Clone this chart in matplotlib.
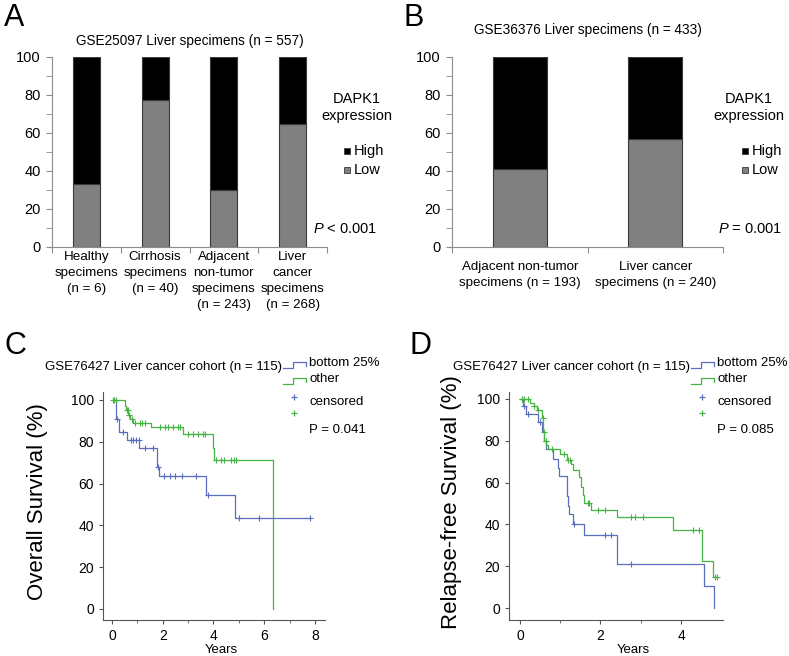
import numpy as np
import matplotlib
matplotlib.use("Agg")
import matplotlib.pyplot as plt
from matplotlib.patches import Rectangle
from matplotlib.lines import Line2D

plt.rcParams['font.family'] = ['Liberation Sans', 'DejaVu Sans']
plt.rcParams['mathtext.fontset'] = 'custom'
plt.rcParams['mathtext.rm'] = 'Liberation Sans'
plt.rcParams['mathtext.it'] = 'Liberation Sans:italic'

# ---- data: panel A (GSE25097) ----
cats_a = ['Healthy\nspecimens\n(n = 6)', 'Cirrhosis\nspecimens\n(n = 40)',
          'Adjacent\nnon-tumor\nspecimens\n(n = 243)', 'Liver\ncancer\nspecimens\n(n = 268)']
low_a = [33.3, 77.5, 30.0, 64.5]
high_a = [100 - v for v in low_a]

# ---- data: panel B (GSE36376) ----
cats_b = ['Adjacent non-tumor\nspecimens (n = 193)', 'Liver cancer\nspecimens (n = 240)']
low_b = [41.0, 57.0]
high_b = [100 - v for v in low_b]

# ---- data: panel C (overall survival, GSE76427) ----
os_blue_t = [0.05, 0.16, 0.28, 0.6, 1.06, 1.77, 1.85, 3.7, 4.85, 7.8]
os_blue_s = [100, 91, 84.5, 81, 77, 68, 63.5, 54.5, 43.5, 43.5]
os_blue_cens = [0.2, 0.45, 0.75, 0.85, 0.95, 1.05, 1.3, 1.6, 1.8, 2.05, 2.3, 2.5, 2.75, 3.3, 3.8, 5.0, 5.8, 7.8]
os_green_t = [0.05, 0.5, 0.55, 0.65, 0.72, 0.85, 1.55, 2.78, 3.97, 4.02, 6.33, 6.33]
os_green_s = [100, 97, 95, 93, 91, 89, 87, 83.5, 77, 71.5, 71.5, 0]
os_green_cens = [0.05, 0.1, 0.15, 0.58, 0.62, 0.68, 0.8, 0.9, 1.1, 1.2, 1.3, 1.9, 2.1, 2.2,
                 2.4, 2.6, 2.7, 3.0, 3.2, 3.4, 3.6, 3.68, 4.1, 4.3, 4.4, 4.7, 4.8, 4.9]

# ---- data: panel D (relapse-free survival, GSE76427) ----
rfs_blue_t = [0.02, 0.07, 0.15, 0.46, 0.56, 0.6, 0.66, 0.82, 0.94, 0.98, 1.17, 1.2, 1.23,
              1.32, 1.58, 2.4, 2.42, 4.57, 4.82]
rfs_blue_s = [100, 96.5, 93, 89, 84, 80, 76, 71.5, 67, 63, 53.5, 49, 45, 40, 35, 28, 21, 10.5, 0]
rfs_blue_cens = [0.05, 0.1, 0.2, 0.5, 0.65, 1.35, 2.1, 2.25, 2.75]
rfs_green_t = [0.02, 0.25, 0.35, 0.42, 0.55, 0.58, 0.61, 0.66, 0.7, 1.0, 1.17, 1.28, 1.32,
               1.47, 1.52, 1.57, 1.6, 1.76, 2.4, 3.8, 4.52, 4.8, 4.9]
rfs_green_s = [100, 98, 96.5, 94.5, 91, 84, 80, 78, 76, 73.5, 71, 69, 66, 62.5, 58, 54,
               50, 47, 43.5, 37.5, 22.5, 15, 15]
rfs_green_cens = [0.05, 0.1, 0.2, 0.35, 0.45, 0.57, 0.6, 0.65, 0.8, 1.1, 1.2, 1.25, 1.68,
                  1.72, 1.95, 2.1, 2.75, 2.85, 3.05, 4.3, 4.45, 4.85, 4.9]

W, H = 789, 656
BLUE = '#5a6ebf'
GREEN = '#45b445'
GRAY_AX = '#8c8c8c'


def fx(x):
    return x / W


def fy(y):
    return 1 - y / H


fig = plt.figure(figsize=(W / 100, H / 100), dpi=100)


def bar_panel(left, right, cats, low, high, width, lab_pad):
    ax = fig.add_axes([fx(left), fy(247), fx(right) - fx(left), fy(57) - fy(247)])
    x = np.arange(len(cats)) + 0.5
    ax.bar(x, low, width=width, color='#808080', edgecolor='#3a3a3a', linewidth=0.8)
    ax.bar(x, high, bottom=low, width=width, color='black', edgecolor='#3a3a3a', linewidth=0.8)
    ax.set_xlim(0, len(cats))
    ax.set_ylim(0, 100)
    for s in ['top', 'right']:
        ax.spines[s].set_visible(False)
    for s in ['left', 'bottom']:
        ax.spines[s].set_color(GRAY_AX)
    ax.set_yticks(np.arange(0, 101, 20))
    ax.set_yticks(np.arange(0, 101, 10), minor=True)
    ax.tick_params(axis='y', which='both', direction='out', length=4, color=GRAY_AX,
                   labelsize=10.5, pad=4)
    ax.set_xticks(np.arange(len(cats) + 1))
    ax.set_xticklabels([])
    ax.set_xticks(x, minor=True)
    ax.set_xticklabels(cats, minor=True, fontsize=9.6, linespacing=1.45)
    ax.tick_params(axis='x', which='major', direction='out', length=4, color=GRAY_AX)
    ax.tick_params(axis='x', which='minor', length=0, pad=lab_pad)
    return ax


def bar_legend(cx, sq_x, ptext, px):
    fig.text(fx(cx), fy(99), 'DAPK1', ha='center', va='center', fontsize=10.5)
    fig.text(fx(cx), fy(116), 'expression', ha='center', va='center', fontsize=10.5)
    for yy, col, lab in [(151, 'black', 'High'), (170, '#808080', 'Low')]:
        fig.add_artist(Rectangle((fx(sq_x - 3), fy(yy + 3)), 6 / W, 6 / H, facecolor=col,
                                 edgecolor='#3a3a3a', linewidth=0.6, transform=fig.transFigure))
        fig.text(fx(sq_x + 7), fy(yy), lab, ha='left', va='center', fontsize=10.5)
    fig.text(fx(px), fy(229), ptext, ha='left', va='center', fontsize=10.5)


# Panel A
bar_panel(52, 327, cats_a, low_a, high_a, 0.39, 3)
fig.text(fx(190), fy(41), 'GSE25097 Liver specimens (n = 557)', ha='center', va='center', fontsize=9.8)
bar_legend(357, 347, '$P$ < 0.001', 313)
fig.text(fx(4), fy(18), 'A', ha='left', va='center', fontsize=22)

# Panel B
bar_panel(452, 723, cats_b, low_b, high_b, 0.4, 10)
fig.text(fx(588), fy(30), 'GSE36376 Liver specimens (n = 433)', ha='center', va='center', fontsize=9.8)
bar_legend(749, 745, '$P$ = 0.001', 718)
fig.text(fx(404), fy(18), 'B', ha='left', va='center', fontsize=22)


def step_y(t, s, c):
    idx = np.searchsorted(np.array(t), np.array(c), side='right') - 1
    idx = np.clip(idx, 0, len(s) - 1)
    return np.array(s)[idx]


def km_panel(left, right, xlim, ylim, xticks, curves, ylabel, ylab_x, title_x, title, leg_x, ptext,
             years_x, label, label_x):
    ax = fig.add_axes([fx(left), fy(620), fx(right) - fx(left), fy(392) - fy(620)])
    for t, s, c, col in curves:
        ax.step(t, s, where='post', color=col, linewidth=0.9)
        ax.plot(c, step_y(t, s, c), linestyle='none', marker='+', markersize=4,
                markeredgewidth=0.8, color=col)
    ax.set_xlim(*xlim)
    ax.set_ylim(*ylim)
    ax.set_xticks(xticks)
    ax.set_xticks(np.arange(0, xticks[-1] + 0.01, 1), minor=True)
    ax.set_yticks(np.arange(0, 101, 20))
    for s in ['top', 'right']:
        ax.spines[s].set_visible(False)
    for s in ['left', 'bottom']:
        ax.spines[s].set_color('#555555')
        ax.spines[s].set_linewidth(0.8)
    ax.tick_params(which='major', direction='out', length=3, color='#555555', labelsize=10)
    ax.tick_params(which='minor', direction='out', length=2, color='#555555')
    fig.text(fx(years_x), fy(650), 'Years', ha='center', va='center', fontsize=9.5)
    fig.text(fx(ylab_x), fy(502), ylabel, ha='center', va='center', rotation=90, fontsize=16)
    fig.text(fx(title_x), fy(367), title, ha='left', va='center', fontsize=9.5)
    # legend with step glyphs
    for yy, col, lab in [(363, BLUE, 'bottom 25%'), (379, GREEN, 'other')]:
        xs = [leg_x, leg_x + 10, leg_x + 10, leg_x + 23, leg_x + 23]
        ys = [yy + 5, yy + 5, yy - 1, yy - 1, yy + 3]
        fig.add_artist(Line2D([fx(v) for v in xs], [fy(v) for v in ys], color=col,
                              linewidth=0.9, transform=fig.transFigure))
        fig.text(fx(leg_x + 26), fy(yy), lab, ha='left', va='center', fontsize=9.5)
    for yy, col in [(397, BLUE), (413, GREEN)]:
        fig.add_artist(Line2D([fx(leg_x + 11)], [fy(yy)], marker='+', markersize=5,
                              markeredgewidth=0.9, color=col, transform=fig.transFigure))
    fig.text(fx(leg_x + 26), fy(402), 'censored', ha='left', va='center', fontsize=9.5)
    fig.text(fx(leg_x + 26), fy(430), ptext, ha='left', va='center', fontsize=9.5)
    fig.text(fx(label_x), fy(346), label, ha='left', va='center', fontsize=22)
    return ax


km_panel(103, 325, (-0.35, 8.39), (-5.3, 103.8), [0, 2, 4, 6, 8],
         [(os_blue_t, os_blue_s, os_blue_cens, BLUE), (os_green_t, os_green_s, os_green_cens, GREEN)],
         'Overall Survival (%)', 38, 45, 'GSE76427 Liver cancer cohort (n = 115)', 283, 'P = 0.041',
         221, 'C', 5)

km_panel(509, 723, (-0.27, 5.04), (-5.7, 103.3), [0, 2, 4],
         [(rfs_blue_t, rfs_blue_s, rfs_blue_cens, BLUE), (rfs_green_t, rfs_green_s, rfs_green_cens, GREEN)],
         'Relapse-free Survival (%)', 452, 453, 'GSE76427 Liver cancer cohort (n = 115)', 691, 'P = 0.085',
         633, 'D', 410)

fig.savefig('out.png', dpi=100)
